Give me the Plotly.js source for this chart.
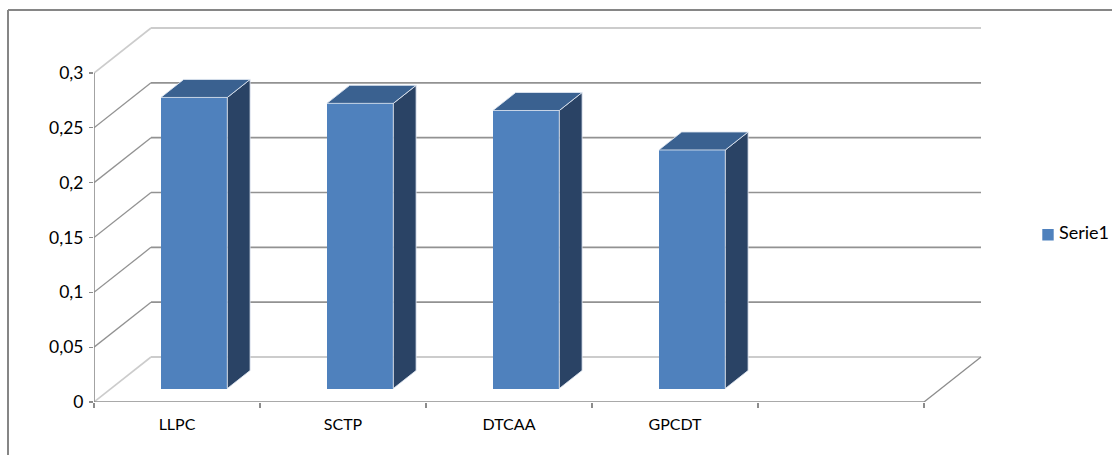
<!DOCTYPE html>
<html><head><meta charset="utf-8">
<script src="https://cdn.plot.ly/plotly-3.0.1.min.js"></script>
<style>html,body{margin:0;padding:0;background:#fff}#c{width:1112px;height:455px}
g.legend g.legendpoints path{transform:translate(29px,3px) scale(.95) !important}</style>
</head><body><div id="c"></div>
<script>
// Data
const categories = ['LLPC','SCTP','DTCAA','GPCDT'];
const values = [0.2654,0.2600,0.2535,0.2175];
const seriesName = 'Serie1';
const yTicks = [0,0.05,0.1,0.15,0.2,0.25,0.3];
const yTickLabels = ['0','0,05','0,1','0,15','0,2','0,25','0,3'];
const categorySlots = 5;

// Styling and oblique projection (depth in axis units)
const W=1112,H=455;
const m={l:94,r:122,t:20,b:53};
const pxPerCat=166, pxPerUnit=329/0.3;
const depthX=57/pxPerCat, depthY=45/pxPerUnit;
const barWidth=0.4, fFront=0.3, fBack=0.7;
const xMax=(W-m.l-m.r)/pxPerCat, yMax=(H-m.t-m.b)/pxPerUnit;
const FRONT='#4F81BD',TOP='#3A6190',SIDE='#2A4365',EDGE='rgba(225,232,242,0.85)';
const GRID='#929292',LIGHT='#cccccc',AXIS='#8c8c8c',FRAME='#868686';

const px=(c,f)=>c+f*depthX, py=(v,f)=>v+f*depthY;
const shapes=[];
const seg=(c0,f0,v0,c1,f1,v1,color,width)=>shapes.push({type:'line',layer:'below',xref:'x',yref:'y',
  x0:px(c0,f0),y0:py(v0,f0),x1:px(c1,f1),y1:py(v1,f1),line:{color,width}});
yTicks.forEach((v,i)=>{
  const edge=i===0||i===yTicks.length-1, col=edge?LIGHT:GRID, w=edge?2:1.6;
  seg(0,1,v,categorySlots,1,v,col,w);
  seg(0,0,v,0,1,v,col,edge?1.6:1.3);
});
seg(categorySlots,0,0,categorySlots,1,0,AXIS,1.3);
const toPaperX=p=>(p-m.l)/(W-m.l-m.r), toPaperY=p=>1-(p-m.t)/(H-m.t-m.b);
const framePx={left:8,top:10};
[[framePx.left,framePx.top,framePx.left,H],[framePx.left,framePx.top,W,framePx.top]].forEach(a=>
  shapes.push({type:'line',layer:'below',xref:'paper',yref:'paper',x0:toPaperX(a[0]),y0:toPaperY(a[1]),x1:toPaperX(a[2]),y1:toPaperY(a[3]),line:{color:FRAME,width:2}}));

const traces=[];
traces.push({type:'bar',name:seriesName,showlegend:true,
  x:categories.map((_,i)=>px(i+0.5,fFront)),y:values,base:categories.map(()=>py(0,fFront)),
  width:barWidth,marker:{color:FRONT,line:{width:0}},hoverinfo:'skip'});
values.forEach((v,i)=>{
  const l=i+0.5-barWidth/2,r=i+0.5+barWidth/2;
  traces.push({type:'scatter',mode:'lines',showlegend:false,hoverinfo:'skip',fill:'toself',fillcolor:SIDE,
    line:{color:EDGE,width:1},
    x:[px(r,fFront),px(r,fBack),px(r,fBack),px(r,fFront),px(r,fFront)],
    y:[py(v,fFront),py(v,fBack),py(0,fBack),py(0,fFront),py(v,fFront)]});
  traces.push({type:'scatter',mode:'lines',showlegend:false,hoverinfo:'skip',fill:'toself',fillcolor:TOP,
    line:{color:EDGE,width:1},
    x:[px(l,fFront),px(l,fBack),px(r,fBack),px(r,fFront),px(l,fFront)],
    y:[py(v,fFront),py(v,fBack),py(v,fBack),py(v,fFront),py(v,fFront)]});
});
// Axis lines stop at the last tick, not at the plot edge
traces.push({type:'scatter',mode:'lines',showlegend:false,hoverinfo:'skip',cliponaxis:false,x:[0,0],y:[0,yTicks[yTicks.length-1]],line:{color:AXIS,width:1.6}});
traces.push({type:'scatter',mode:'lines',showlegend:false,hoverinfo:'skip',cliponaxis:false,x:[0,categorySlots],y:[0,0],line:{color:AXIS,width:1.6}});

const slotEdges=Array.from({length:categorySlots+1},(_,i)=>i);
Plotly.newPlot('c',traces,{
  width:W,height:H,margin:m,paper_bgcolor:'#fff',plot_bgcolor:'rgba(0,0,0,0)',
  font:{family:'Lato, "Open Sans", sans-serif',color:'#000',size:16},
  bargap:0,shapes,
  xaxis:{range:[0,xMax],showgrid:false,zeroline:false,showline:false,tickmode:'array',
    tickvals:categories.map((_,i)=>i+0.5),ticktext:categories,ticks:'',ticklen:0,ticklabelstandoff:11,
    tickfont:{size:16},
    minor:{tickmode:'array',tickvals:slotEdges,ticks:'outside',ticklen:5,tickwidth:1.3,tickcolor:AXIS,showgrid:false}},
  yaxis:{range:[0,yMax],showgrid:false,zeroline:false,showline:false,tickmode:'array',
    tickvals:yTicks,ticktext:yTickLabels,ticks:'outside',ticklen:4,tickwidth:1.3,tickcolor:AXIS,ticklabelstandoff:2,
    tickfont:{size:17.5}},
  showlegend:true,
  legend:{xref:'container',yref:'container',x:1019/W,xanchor:'left',y:1-232/H,yanchor:'middle',bgcolor:'rgba(0,0,0,0)',font:{size:18}}
},{displayModeBar:false,staticPlot:true});
</script></body></html>
